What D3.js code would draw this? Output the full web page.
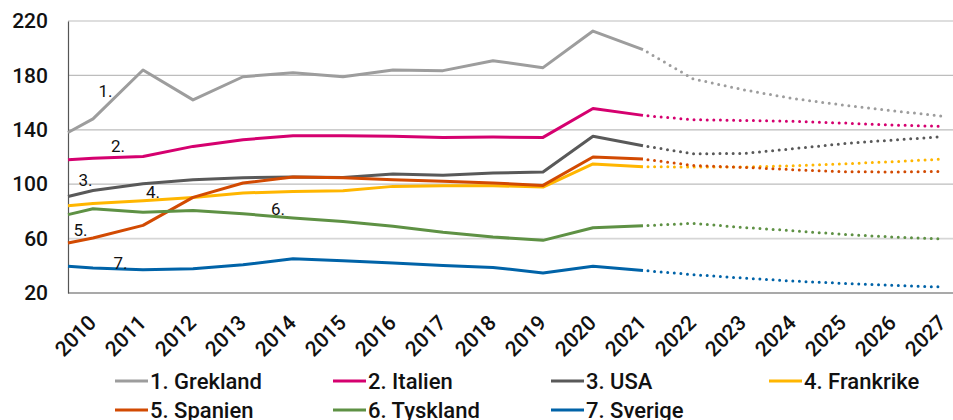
<!DOCTYPE html>
<html>
<head>
  <meta charset="utf-8">
  <title>Skuldkvot</title>
  <script src="https://d3js.org/d3.v7.min.js"></script>
  <style>
    body { margin: 0; background: #fff; }
    text { font-family: Roboto, "Noto Sans", sans-serif; fill: #111; }
  </style>
</head>
<body>
<div id="chart"></div>
<script>
// Årtal på x-axeln; första punkten ligger på axelns vänsterkant
const years = ['2010','2011','2012','2013','2014','2015','2016','2017','2018',
               '2019','2020','2021','2022','2023','2024','2025','2026','2027'];
const edgeX = 2009.5;
const lastActual = 2021;

// Värden: kantpunkt, 2010 ... 2027
const grekland  = [138, 148, 184, 162, 179, 182, 179, 184, 183.5, 190.8, 185.7, 212.6, 199, 177.5, 169.5, 163, 158.2, 154, 150];
const italien   = [118, 119, 120.4, 127.8, 132.7, 135.7, 135.7, 135.2, 134.4, 134.7, 134.4, 155.7, 150.6, 147.4, 146.9, 146.2, 145, 143.5, 142.5];
const usa       = [91, 95.4, 100.4, 103.3, 104.8, 105.3, 105, 107.5, 106.5, 108.2, 109, 135.2, 128.3, 122.4, 122.6, 126.1, 129.8, 132.5, 134.9];
const frankrike = [84.2, 85.8, 87.9, 90.3, 93.5, 94.7, 95.2, 98.4, 98.9, 98.9, 97.9, 114.9, 112.9, 112.6, 112.6, 113.6, 115, 116.5, 118.5];
const spanien   = [56.8, 60.4, 69.7, 90.3, 100.9, 105.3, 104.8, 103.3, 102.1, 100.9, 99.1, 120, 118.5, 113.8, 112.4, 110.7, 109.2, 109, 109.4];
const tyskland  = [77.6, 82, 79.3, 80.7, 78.3, 75.1, 72.6, 69, 64.6, 61.2, 58.7, 68, 69.5, 71.2, 68.2, 65.8, 63.1, 61.2, 59.7];
const sverige   = [39.6, 38.4, 37.1, 37.9, 40.8, 45.2, 43.8, 42, 40.3, 38.8, 34.7, 39.6, 36.6, 33.5, 31, 28.8, 27.1, 25.6, 24.4];

const seriesNames  = ['1. Grekland', '2. Italien', '3. USA', '4. Frankrike', '5. Spanien', '6. Tyskland', '7. Sverige'];
const seriesValues = [grekland, italien, usa, frankrike, spanien, tyskland, sverige];
const colors = ['#9d9d9d', '#d5006f', '#595959', '#ffb600', '#d24a02', '#5e9144', '#0063a8'];

const yTicks = [20, 60, 100, 140, 180, 220];

// Nummeretiketter i diagrammet (år, värde)
const tagLabels = ['1.', '2.', '3.', '4.', '5.', '6.', '7.'];
const tagPos = [[2010.25, 164], [2010.5, 124], [2009.85, 99], [2011.2, 90], [2009.75, 62], [2013.7, 77.5], [2010.55, 38]];

const W = 953, H = 420;
const margin = { top: 21, left: 68, bottom: 127 };

const xDomainVals = [edgeX].concat(years.map(Number));

const x = d3.scaleLinear()
  .domain([edgeX, 2027.5])
  .range([margin.left, margin.left + 900]);
const y = d3.scaleLinear()
  .domain([20, 220])
  .range([H - margin.bottom, margin.top]);

const svg = d3.select('#chart').append('svg')
  .attr('width', W)
  .attr('height', H);

// Rutnät
svg.append('g')
  .selectAll('line')
  .data(yTicks.filter(d => d > 20))
  .join('line')
    .attr('x1', margin.left).attr('x2', W)
    .attr('y1', d => y(d)).attr('y2', d => y(d))
    .attr('stroke', d => d === 60 ? '#d6d6d6' : '#bdbdbd')
    .attr('stroke-width', d => d === 60 ? 1.8 : 1.2);

// y-axel
const yAxis = d3.axisLeft(y).tickValues(yTicks).tickSize(0).tickPadding(20);
svg.append('g')
  .attr('transform', 'translate(' + margin.left + ',0)')
  .call(yAxis)
  .call(g => g.select('.domain').attr('stroke', '#555').attr('stroke-width', 1.2))
  .call(g => g.selectAll('text')
    .style('font-family', 'Roboto, sans-serif')
    .style('font-size', '21px')
    .style('font-weight', 500)
    .attr('fill', '#111'));

// x-axel
const xAxis = d3.axisBottom(x)
  .tickValues(years.map(Number))
  .tickFormat(d3.format('d'))
  .tickSize(0);
svg.append('g')
  .attr('transform', 'translate(0,' + y(20) + ')')
  .call(xAxis)
  .call(g => g.select('.domain').attr('d', 'M' + margin.left + ',0H' + W).attr('stroke', '#555').attr('stroke-width', 1.2))
  .call(g => g.selectAll('text')
    .style('font-family', 'Roboto, sans-serif')
    .style('font-size', '21px')
    .style('font-weight', 500)
    .attr('fill', '#111')
    .attr('text-anchor', 'end')
    .attr('dy', 0)
    .attr('y', 0)
    .attr('transform', 'translate(4,31) rotate(-45)'));

// Linjer
const line = d3.line()
  .x(d => x(d.year))
  .y(d => y(d.value));

seriesValues.forEach((vals, i) => {
  const pts = vals.map((v, j) => ({ year: xDomainVals[j], value: v }));
  const actual = pts.filter(d => d.year <= lastActual);
  const forecast = pts.filter(d => d.year >= lastActual);

  svg.append('path')
    .datum(actual)
    .attr('fill', 'none')
    .attr('stroke', colors[i])
    .attr('stroke-width', 3)
    .attr('stroke-linejoin', 'round')
    .attr('d', line);

  svg.append('path')
    .datum(forecast)
    .attr('fill', 'none')
    .attr('stroke', colors[i])
    .attr('stroke-width', 3)
    .attr('stroke-linecap', 'round')
    .attr('stroke-dasharray', '0 6.6')
    .attr('stroke-dashoffset', -5)
    .attr('d', line);
});

// Nummeretiketter
svg.append('g')
  .selectAll('text')
  .data(tagLabels)
  .join('text')
    .attr('x', (d, i) => x(tagPos[i][0]))
    .attr('y', (d, i) => y(tagPos[i][1]))
    .attr('text-anchor', 'middle')
    .style('font-size', '17px')
    .text(d => d);

// Teckenförklaring
const legendCols = 4;
const legend = svg.append('g');
const item = legend.selectAll('g')
  .data(seriesNames)
  .join('g')
    .attr('transform', (d, i) => 'translate(' + (115 + (i % legendCols) * 218) + ',' + (381 + Math.floor(i / legendCols) * 29) + ')');
item.append('line')
  .attr('x1', 0).attr('x2', 33)
  .attr('stroke', (d, i) => colors[i])
  .attr('stroke-width', 3);
item.append('text')
  .attr('x', 35)
  .attr('dy', '0.36em')
  .style('font-size', '22px')
  .style('font-weight', 500)
  .text(d => d);
</script>
</body>
</html>
